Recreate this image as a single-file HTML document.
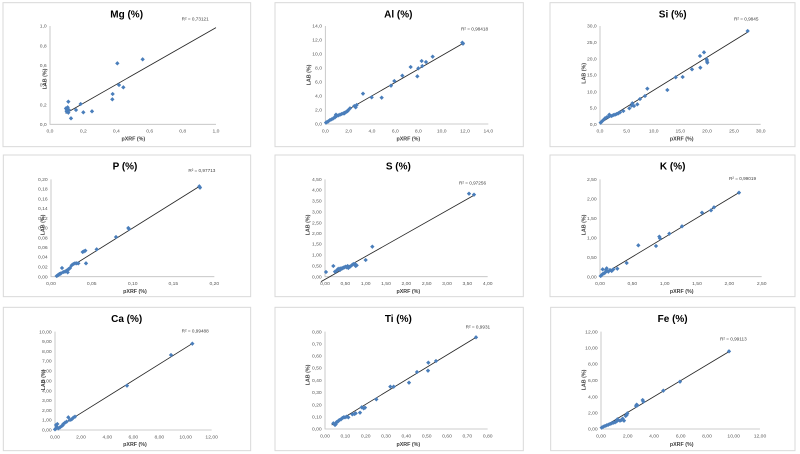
<!DOCTYPE html>
<html>
<head>
<meta charset="utf-8">
<style>
html,body{margin:0;padding:0;background:#fff;}
svg{display:block;}
text{font-family:"Liberation Sans",Arial,sans-serif;}
.b{fill:#fff;stroke:#d9d9d9;stroke-width:3;}
.ax{stroke:#bfbfbf;stroke-width:2.5;fill:none;}
.tr{stroke:#262626;stroke-width:2.5;fill:none;}
.tl{font-size:15px;fill:#595959;}
.ye{text-anchor:end;}
.xm{text-anchor:middle;}
.ti{font-size:30px;font-weight:bold;fill:#000;text-anchor:middle;}
.at{font-size:16px;font-weight:bold;fill:#404040;text-anchor:middle;}
.r2{font-size:14px;fill:#404040;}
</style>
</head>
<body>
<svg width="800" height="454" viewBox="0 0 800 454" xmlns="http://www.w3.org/2000/svg" xmlns:xlink="http://www.w3.org/1999/xlink">
<defs>
<path id="d" d="M0,-6.5L6.5,0L0,6.5L-6.5,0Z" fill="#4a7ebb"/>
</defs>

<!-- Panel 1 Mg -->
<g transform="translate(0,0) scale(0.33333)">
<rect class="b" x="9" y="8" width="743" height="432"/>
<path class="ax" d="M150,78V373H648"/>
<g class="tl ye">
<text x="140" y="83">1,0</text><text x="140" y="142">0,8</text><text x="140" y="201">0,6</text><text x="140" y="260">0,4</text><text x="140" y="319">0,2</text><text x="140" y="378">0,0</text>
</g>
<g class="tl xm">
<text x="150" y="398">0,0</text><text x="250" y="398">0,2</text><text x="349" y="398">0,4</text><text x="449" y="398">0,6</text><text x="548" y="398">0,8</text><text x="648" y="398">1,0</text>
</g>
<text class="ti" x="380" y="52">Mg (%)</text>
<text class="r2" x="545" y="62">R² = 0,73121</text>
<text class="at" x="400" y="422">pXRF (%)</text>
<text class="at" transform="translate(139,237) rotate(-90)">LAB (%)</text>
<path class="tr" d="M197,340L648,83"/>
<g>
<use href="#d" x="205" y="305"/><use href="#d" x="200" y="330"/><use href="#d" x="198" y="325"/><use href="#d" x="203" y="322"/><use href="#d" x="207" y="330"/><use href="#d" x="200" y="335"/><use href="#d" x="205" y="338"/><use href="#d" x="213" y="355"/><use href="#d" x="228" y="330"/><use href="#d" x="242" y="312"/><use href="#d" x="250" y="337"/><use href="#d" x="276" y="334"/><use href="#d" x="337" y="298"/><use href="#d" x="338" y="282"/><use href="#d" x="352" y="190"/><use href="#d" x="357" y="255"/><use href="#d" x="370" y="262"/><use href="#d" x="428" y="178"/>
</g>
</g>

<!-- Panel 2 Al -->
<g transform="translate(265,0) scale(0.33333)">
<rect class="b" x="30" y="8" width="745" height="432"/>
<path class="ax" d="M181,78V372H670"/>
<g class="tl ye">
<text x="171" y="83">14,0</text><text x="171" y="125">12,0</text><text x="171" y="167">10,0</text><text x="171" y="209">8,0</text><text x="171" y="251">6,0</text><text x="171" y="293">4,0</text><text x="171" y="335">2,0</text><text x="171" y="377">0,0</text>
</g>
<g class="tl xm">
<text x="181" y="397">0,0</text><text x="251" y="397">2,0</text><text x="321" y="397">4,0</text><text x="391" y="397">6,0</text><text x="460" y="397">8,0</text><text x="530" y="397">10,0</text><text x="600" y="397">12,0</text><text x="670" y="397">14,0</text>
</g>
<text class="ti" x="400" y="52">Al (%)</text>
<text class="r2" x="588" y="92">R² = 0,98418</text>
<text class="at" x="430" y="422">pXRF (%)</text>
<text class="at" transform="translate(136,225) rotate(-90)">LAB (%)</text>
<path class="tr" d="M181,368L598,128"/>
<g>
<use href="#d" x="183" y="368"/><use href="#d" x="186" y="366"/><use href="#d" x="190" y="364"/><use href="#d" x="195" y="360"/><use href="#d" x="200" y="358"/><use href="#d" x="205" y="355"/><use href="#d" x="210" y="352"/><use href="#d" x="212" y="348"/><use href="#d" x="213" y="344"/><use href="#d" x="215" y="348"/><use href="#d" x="220" y="346"/><use href="#d" x="225" y="344"/><use href="#d" x="230" y="342"/><use href="#d" x="235" y="340"/><use href="#d" x="238" y="340"/><use href="#d" x="240" y="338"/><use href="#d" x="245" y="335"/><use href="#d" x="248" y="333"/><use href="#d" x="250" y="330"/><use href="#d" x="255" y="325"/><use href="#d" x="268" y="318"/><use href="#d" x="272" y="322"/><use href="#d" x="275" y="315"/><use href="#d" x="294" y="281"/><use href="#d" x="320" y="292"/><use href="#d" x="350" y="293"/><use href="#d" x="378" y="257"/><use href="#d" x="388" y="243"/><use href="#d" x="412" y="227"/><use href="#d" x="437" y="201"/><use href="#d" x="457" y="229"/><use href="#d" x="460" y="205"/><use href="#d" x="470" y="183"/><use href="#d" x="472" y="198"/><use href="#d" x="483" y="186"/><use href="#d" x="503" y="170"/><use href="#d" x="592" y="128"/><use href="#d" x="594" y="131"/>
</g>
</g>

<!-- Panel 3 Si -->
<g transform="translate(530,0) scale(0.33333)">
<rect class="b" x="60" y="8" width="735" height="432"/>
<path class="ax" d="M210,78V373H692"/>
<g class="tl ye">
<text x="200" y="83">30,0</text><text x="200" y="132">25,0</text><text x="200" y="181">20,0</text><text x="200" y="230">15,0</text><text x="200" y="280">10,0</text><text x="200" y="329">5,0</text><text x="200" y="378">0,0</text>
</g>
<g class="tl xm">
<text x="210" y="398">0,0</text><text x="290" y="398">5,0</text><text x="371" y="398">10,0</text><text x="451" y="398">15,0</text><text x="531" y="398">20,0</text><text x="612" y="398">25,0</text><text x="692" y="398">30,0</text>
</g>
<text class="ti" x="428" y="52">Si (%)</text>
<text class="r2" x="612" y="62">R² = 0,9845</text>
<text class="at" x="455" y="422">pXRF (%)</text>
<text class="at" transform="translate(166,220) rotate(-90)">LAB (%)</text>
<path class="tr" d="M210,370L652,97"/>
<g>
<use href="#d" x="212" y="368"/><use href="#d" x="215" y="365"/><use href="#d" x="220" y="360"/><use href="#d" x="225" y="355"/><use href="#d" x="230" y="352"/><use href="#d" x="235" y="350"/><use href="#d" x="238" y="344"/><use href="#d" x="240" y="347"/><use href="#d" x="245" y="348"/><use href="#d" x="250" y="345"/><use href="#d" x="255" y="344"/><use href="#d" x="260" y="342"/><use href="#d" x="265" y="340"/><use href="#d" x="270" y="337"/><use href="#d" x="280" y="333"/><use href="#d" x="298" y="325"/><use href="#d" x="305" y="317"/><use href="#d" x="307" y="310"/><use href="#d" x="312" y="318"/><use href="#d" x="322" y="313"/><use href="#d" x="330" y="297"/><use href="#d" x="345" y="288"/><use href="#d" x="352" y="266"/><use href="#d" x="412" y="270"/><use href="#d" x="437" y="232"/><use href="#d" x="458" y="231"/><use href="#d" x="486" y="208"/><use href="#d" x="510" y="168"/><use href="#d" x="511" y="203"/><use href="#d" x="522" y="157"/><use href="#d" x="530" y="178"/><use href="#d" x="531" y="183"/><use href="#d" x="532" y="188"/><use href="#d" x="653" y="93"/>
</g>
</g>

<!-- Panel 4 P -->
<g transform="translate(0,150) scale(0.33333)">
<rect class="b" x="10" y="15" width="742" height="425"/>
<path class="ax" d="M153,88V380H643"/>
<g class="tl ye">
<text x="143" y="93">0,20</text><text x="143" y="122">0,18</text><text x="143" y="151">0,16</text><text x="143" y="180">0,14</text><text x="143" y="210">0,12</text><text x="143" y="239">0,10</text><text x="143" y="268">0,08</text><text x="143" y="297">0,06</text><text x="143" y="326">0,04</text><text x="143" y="356">0,02</text><text x="143" y="385">0,00</text>
</g>
<g class="tl xm">
<text x="153" y="405">0,00</text><text x="275" y="405">0,05</text><text x="398" y="405">0,10</text><text x="520" y="405">0,15</text><text x="643" y="405">0,20</text>
</g>
<text class="ti" x="375" y="58">P (%)</text>
<text class="r2" x="565" y="66">R² = 0,97713</text>
<text class="at" x="405" y="429">pXRF (%)</text>
<text class="at" transform="translate(134,225) rotate(-90)">LAB (%)</text>
<path class="tr" d="M168,378L600,108"/>
<g>
<use href="#d" x="170" y="378"/><use href="#d" x="173" y="376"/><use href="#d" x="175" y="375"/><use href="#d" x="178" y="372"/><use href="#d" x="180" y="372"/><use href="#d" x="183" y="370"/><use href="#d" x="186" y="354"/><use href="#d" x="190" y="366"/><use href="#d" x="195" y="365"/><use href="#d" x="200" y="362"/><use href="#d" x="203" y="367"/><use href="#d" x="205" y="358"/><use href="#d" x="208" y="356"/><use href="#d" x="210" y="354"/><use href="#d" x="215" y="346"/><use href="#d" x="220" y="342"/><use href="#d" x="225" y="340"/><use href="#d" x="230" y="340"/><use href="#d" x="235" y="340"/><use href="#d" x="248" y="306"/><use href="#d" x="252" y="304"/><use href="#d" x="256" y="302"/><use href="#d" x="258" y="340"/><use href="#d" x="290" y="298"/><use href="#d" x="348" y="261"/><use href="#d" x="385" y="234"/><use href="#d" x="387" y="237"/><use href="#d" x="598" y="109"/><use href="#d" x="600" y="113"/>
</g>
</g>

<!-- Panel 5 S -->
<g transform="translate(265,150) scale(0.33333)">
<rect class="b" x="30" y="15" width="745" height="425"/>
<path class="ax" d="M180,88V380H668"/>
<g class="tl ye">
<text x="170" y="93">4,50</text><text x="170" y="125">4,00</text><text x="170" y="158">3,50</text><text x="170" y="190">3,00</text><text x="170" y="223">2,50</text><text x="170" y="255">2,00</text><text x="170" y="287">1,50</text><text x="170" y="320">1,00</text><text x="170" y="352">0,50</text><text x="170" y="385">0,00</text>
</g>
<g class="tl xm">
<text x="180" y="405">0,00</text><text x="241" y="405">0,50</text><text x="302" y="405">1,00</text><text x="363" y="405">1,50</text><text x="424" y="405">2,00</text><text x="485" y="405">2,50</text><text x="546" y="405">3,00</text><text x="607" y="405">3,50</text><text x="668" y="405">4,00</text>
</g>
<text class="ti" x="400" y="58">S (%)</text>
<text class="r2" x="582" y="104">R² = 0,97256</text>
<text class="at" x="430" y="429">pXRF (%)</text>
<text class="at" transform="translate(134,225) rotate(-90)">LAB (%)</text>
<path class="tr" d="M168,395L625,137"/>
<g>
<use href="#d" x="183" y="366"/><use href="#d" x="205" y="348"/><use href="#d" x="210" y="365"/><use href="#d" x="215" y="362"/><use href="#d" x="218" y="358"/><use href="#d" x="222" y="356"/><use href="#d" x="225" y="360"/><use href="#d" x="228" y="355"/><use href="#d" x="232" y="355"/><use href="#d" x="235" y="353"/><use href="#d" x="238" y="352"/><use href="#d" x="242" y="350"/><use href="#d" x="245" y="352"/><use href="#d" x="248" y="348"/><use href="#d" x="250" y="354"/><use href="#d" x="255" y="350"/><use href="#d" x="260" y="346"/><use href="#d" x="265" y="342"/><use href="#d" x="270" y="342"/><use href="#d" x="272" y="348"/><use href="#d" x="275" y="346"/><use href="#d" x="302" y="330"/><use href="#d" x="322" y="290"/><use href="#d" x="612" y="131"/><use href="#d" x="627" y="134"/>
</g>
</g>

<!-- Panel 6 K -->
<g transform="translate(530,150) scale(0.33333)">
<rect class="b" x="60" y="15" width="735" height="425"/>
<path class="ax" d="M210,88V380H695"/>
<g class="tl ye">
<text x="200" y="93">2,50</text><text x="200" y="151">2,00</text><text x="200" y="210">1,50</text><text x="200" y="268">1,00</text><text x="200" y="327">0,50</text><text x="200" y="385">0,00</text>
</g>
<g class="tl xm">
<text x="210" y="405">0,00</text><text x="307" y="405">0,50</text><text x="404" y="405">1,00</text><text x="501" y="405">1,50</text><text x="598" y="405">2,00</text><text x="695" y="405">2,50</text>
</g>
<text class="ti" x="428" y="58">K (%)</text>
<text class="r2" x="597" y="90">R² = 0,99019</text>
<text class="at" x="455" y="429">pXRF (%)</text>
<text class="at" transform="translate(166,225) rotate(-90)">LAB (%)</text>
<path class="tr" d="M208,380L628,127"/>
<g>
<use href="#d" x="212" y="378"/><use href="#d" x="215" y="375"/><use href="#d" x="218" y="372"/><use href="#d" x="222" y="370"/><use href="#d" x="225" y="368"/><use href="#d" x="218" y="358"/><use href="#d" x="228" y="360"/><use href="#d" x="230" y="355"/><use href="#d" x="235" y="365"/><use href="#d" x="240" y="360"/><use href="#d" x="245" y="363"/><use href="#d" x="250" y="358"/><use href="#d" x="262" y="356"/><use href="#d" x="290" y="339"/><use href="#d" x="325" y="286"/><use href="#d" x="378" y="288"/><use href="#d" x="388" y="260"/><use href="#d" x="390" y="265"/><use href="#d" x="418" y="251"/><use href="#d" x="456" y="229"/><use href="#d" x="516" y="188"/><use href="#d" x="543" y="181"/><use href="#d" x="552" y="172"/><use href="#d" x="627" y="128"/>
</g>
</g>

<!-- Panel 7 Ca -->
<g transform="translate(0,300) scale(0.33333)">
<rect class="b" x="10" y="22" width="742" height="430"/>
<path class="ax" d="M165,95V390H635"/>
<g class="tl ye">
<text x="155" y="100">10,00</text><text x="155" y="129">9,00</text><text x="155" y="159">8,00</text><text x="155" y="188">7,00</text><text x="155" y="218">6,00</text><text x="155" y="247">5,00</text><text x="155" y="277">4,00</text><text x="155" y="306">3,00</text><text x="155" y="336">2,00</text><text x="155" y="365">1,00</text><text x="155" y="395">0,00</text>
</g>
<g class="tl xm">
<text x="165" y="415">0,00</text><text x="243" y="415">2,00</text><text x="322" y="415">4,00</text><text x="400" y="415">6,00</text><text x="478" y="415">8,00</text><text x="557" y="415">10,00</text><text x="635" y="415">12,00</text>
</g>
<text class="ti" x="380" y="66">Ca (%)</text>
<text class="r2" x="545" y="98">R² = 0,99488</text>
<text class="at" x="405" y="438">pXRF (%)</text>
<text class="at" transform="translate(135,240) rotate(-90)">LAB (%)</text>
<path class="tr" d="M165,388L578,130"/>
<g>
<use href="#d" x="165" y="388"/><use href="#d" x="168" y="385"/><use href="#d" x="170" y="380"/><use href="#d" x="168" y="375"/><use href="#d" x="172" y="372"/><use href="#d" x="175" y="385"/><use href="#d" x="180" y="382"/><use href="#d" x="185" y="378"/><use href="#d" x="188" y="376"/><use href="#d" x="190" y="372"/><use href="#d" x="195" y="368"/><use href="#d" x="200" y="365"/><use href="#d" x="205" y="352"/><use href="#d" x="210" y="360"/><use href="#d" x="215" y="358"/><use href="#d" x="220" y="353"/><use href="#d" x="225" y="350"/><use href="#d" x="381" y="257"/><use href="#d" x="513" y="165"/><use href="#d" x="577" y="131"/>
</g>
</g>

<!-- Panel 8 Ti -->
<g transform="translate(265,300) scale(0.33333)">
<rect class="b" x="30" y="22" width="745" height="430"/>
<path class="ax" d="M180,95V387H668"/>
<g class="tl ye">
<text x="170" y="100">0,80</text><text x="170" y="136">0,70</text><text x="170" y="173">0,60</text><text x="170" y="209">0,50</text><text x="170" y="246">0,40</text><text x="170" y="282">0,30</text><text x="170" y="319">0,20</text><text x="170" y="355">0,10</text><text x="170" y="392">0,00</text>
</g>
<g class="tl xm">
<text x="180" y="412">0,00</text><text x="241" y="412">0,10</text><text x="302" y="412">0,20</text><text x="363" y="412">0,30</text><text x="424" y="412">0,40</text><text x="485" y="412">0,50</text><text x="546" y="412">0,60</text><text x="607" y="412">0,70</text><text x="668" y="412">0,80</text>
</g>
<text class="ti" x="400" y="66">Ti (%)</text>
<text class="r2" x="602" y="85">R² = 0,9931</text>
<text class="at" x="430" y="438">pXRF (%)</text>
<text class="at" transform="translate(134,225) rotate(-90)">LAB (%)</text>
<path class="tr" d="M200,375L633,112"/>
<g>
<use href="#d" x="205" y="370"/><use href="#d" x="208" y="372"/><use href="#d" x="210" y="375"/><use href="#d" x="212" y="373"/><use href="#d" x="215" y="366"/><use href="#d" x="218" y="365"/><use href="#d" x="220" y="363"/><use href="#d" x="223" y="360"/><use href="#d" x="228" y="358"/><use href="#d" x="232" y="354"/><use href="#d" x="236" y="352"/><use href="#d" x="240" y="352"/><use href="#d" x="245" y="350"/><use href="#d" x="250" y="352"/><use href="#d" x="262" y="343"/><use href="#d" x="268" y="342"/><use href="#d" x="272" y="340"/><use href="#d" x="285" y="338"/><use href="#d" x="290" y="322"/><use href="#d" x="296" y="325"/><use href="#d" x="300" y="323"/><use href="#d" x="334" y="298"/><use href="#d" x="376" y="260"/><use href="#d" x="386" y="260"/><use href="#d" x="432" y="248"/><use href="#d" x="456" y="216"/><use href="#d" x="489" y="212"/><use href="#d" x="490" y="188"/><use href="#d" x="513" y="183"/><use href="#d" x="633" y="112"/>
</g>
</g>

<!-- Panel 9 Fe -->
<g transform="translate(530,300) scale(0.33333)">
<rect class="b" x="62" y="22" width="733" height="430"/>
<path class="ax" d="M213,95V387H690"/>
<g class="tl ye">
<text x="203" y="100">12,00</text><text x="203" y="149">10,00</text><text x="203" y="197">8,00</text><text x="203" y="246">6,00</text><text x="203" y="295">4,00</text><text x="203" y="343">2,00</text><text x="203" y="392">0,00</text>
</g>
<g class="tl xm">
<text x="213" y="412">0,00</text><text x="293" y="412">2,00</text><text x="372" y="412">4,00</text><text x="452" y="412">6,00</text><text x="531" y="412">8,00</text><text x="611" y="412">10,00</text><text x="690" y="412">12,00</text>
</g>
<text class="ti" x="428" y="66">Fe (%)</text>
<text class="r2" x="570" y="121">R² = 0,99113</text>
<text class="at" x="455" y="438">pXRF (%)</text>
<text class="at" transform="translate(166,240) rotate(-90)">LAB (%)</text>
<path class="tr" d="M213,385L597,155"/>
<g>
<use href="#d" x="215" y="383"/><use href="#d" x="220" y="380"/><use href="#d" x="225" y="378"/><use href="#d" x="230" y="376"/><use href="#d" x="235" y="374"/><use href="#d" x="240" y="372"/><use href="#d" x="245" y="370"/><use href="#d" x="250" y="368"/><use href="#d" x="255" y="367"/><use href="#d" x="260" y="364"/><use href="#d" x="262" y="358"/><use href="#d" x="265" y="360"/><use href="#d" x="270" y="362"/><use href="#d" x="275" y="360"/><use href="#d" x="278" y="356"/><use href="#d" x="282" y="362"/><use href="#d" x="287" y="348"/><use href="#d" x="290" y="345"/><use href="#d" x="292" y="340"/><use href="#d" x="318" y="318"/><use href="#d" x="320" y="314"/><use href="#d" x="322" y="316"/><use href="#d" x="338" y="300"/><use href="#d" x="340" y="305"/><use href="#d" x="400" y="272"/><use href="#d" x="450" y="245"/><use href="#d" x="597" y="154"/>
</g>
</g>
</svg>
</body>
</html>
